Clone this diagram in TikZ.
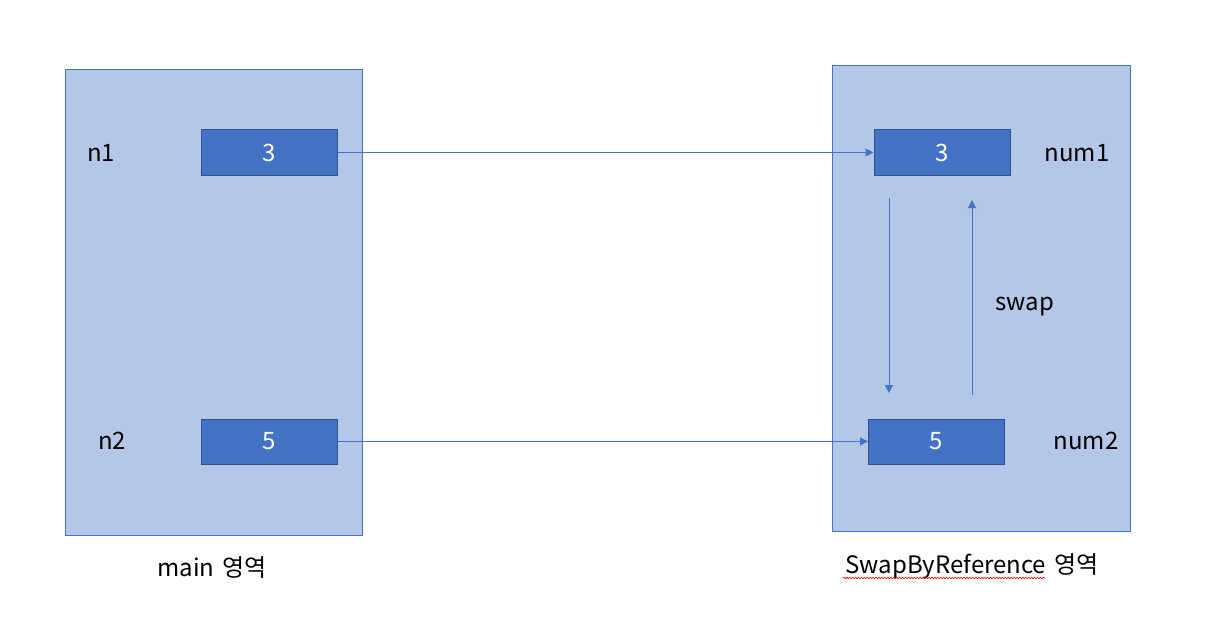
\documentclass[tikz,border=0pt]{standalone}
\usepackage{fontspec}
\setmainfont{Noto Sans CJK KR}
\usetikzlibrary{positioning, arrows.meta, decorations.pathmorphing}
\definecolor{panelfill}{HTML}{B4C7E7}
\definecolor{accent}{HTML}{4472C4}
\definecolor{boxline}{HTML}{2F528F}
\tikzstyle{region} = [rectangle, draw=accent, fill=panelfill, line width=0.75pt, minimum width=222.75pt, minimum height=348.75pt, inner sep=0pt]
\tikzstyle{cell} = [rectangle, draw=boxline, fill=accent, line width=0.75pt, minimum width=102pt, minimum height=33.75pt, text=white, font=\fontsize{18}{22}\selectfont]
\tikzstyle{arrow} = [accent, line width=0.75pt, -{Triangle[length=6pt, width=6pt]}]

\begin{document}
\begin{tikzpicture}[
    x=0.75pt, y=-0.75pt,
    varlabel/.style={font=\fontsize{18}{22}\selectfont, text=black, inner sep=0pt},
    squiggle/.style={red, line width=0.5pt, decorate, decoration={snake, amplitude=0.5pt, segment length=2.2pt}}
]
    \fill[white] (0,0) rectangle (1215,635);
    \useasboundingbox (0,0) rectangle (1215,635);

    % main side
    \node [region] (mainarea) at (213.5,302.5) {};
    \node [cell] (n1box) at (269,152.5) {3};
    \node [cell] (n2box) at (269,441.5) {5};
    \node [varlabel] (n1) at (101,153) {n1};
    \node [varlabel] (n2) at (112,441) {n2};
    \node [varlabel] (maincap) at (212,568) {main\hspace{6pt}영역};

    % SwapByReference side
    \node [region, minimum width=223.5pt] (swaparea) at (981,298.5) {};
    \node [cell] (num1box) at (942,152.5) {3};
    \node [cell] (num2box) at (936.5,441.5) {5};
    \node [varlabel] (num1) at (1077,153) {num1};
    \node [varlabel] (num2) at (1086,441) {num2};
    \node [varlabel] (swap) at (1025,307) {swap};
    \node [varlabel] (swapcap) at (972,566) {SwapByReference\hspace{6pt}영역};
    \draw [squiggle] (843,578) -- (1045,578);

    % swap arrows
    \coordinate (downtop) at (889,198);
    \coordinate (downend) at (889,393);
    \coordinate (upstart) at (972,395);
    \coordinate (upend) at (972,200);

    % Connections
    \draw [arrow] (n1box.east) -- (num1box.west);
    \draw [arrow] (n2box.east) -- (num2box.west);
    \draw [arrow] (downtop) -- (downend);
    \draw [arrow] (upstart) -- (upend);
\end{tikzpicture}
\end{document}
